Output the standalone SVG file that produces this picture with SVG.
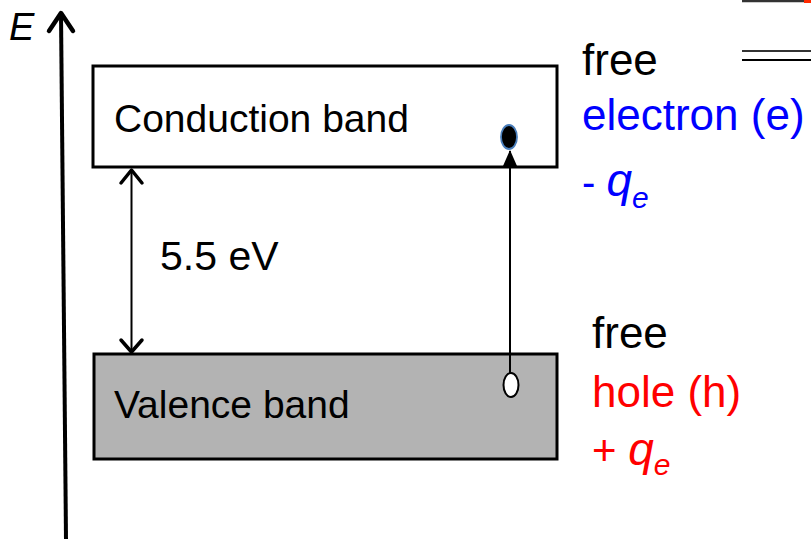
<svg xmlns="http://www.w3.org/2000/svg" width="811" height="539" viewBox="0 0 811 539">
<style>
text{font-family:"Liberation Sans",Arial,sans-serif;}
.band{stroke:#000;stroke-width:3;}
.lbl{font-size:39px;fill:#000;}
.side{font-size:44px;}
.open{fill:none;stroke:#000;stroke-width:3.5;stroke-linecap:round;stroke-linejoin:round;}
.q{font-style:italic;font-size:46px;}
.sub{font-style:italic;font-size:30px;}
</style>
<defs>
<marker id="tri" markerWidth="16" markerHeight="14" refX="15" refY="7" orient="auto" markerUnits="userSpaceOnUse" viewBox="0 0 16 14">
<path d="M0,0 L16,7 L0,14 Z" fill="#000"/>
</marker>
</defs>
<rect width="811" height="539" fill="#fff"/>
<g id="axis">
<line x1="66" y1="539" x2="61" y2="14" stroke="#000" stroke-width="4"/>
<polyline points="49,31 61,13 73,31" fill="none" stroke="#000" stroke-width="4.5" stroke-linecap="round" stroke-linejoin="round"/>
<text x="9" y="40" font-size="38" font-style="italic">E</text>
</g>
<g id="conduction">
<rect class="band" x="93" y="66" width="464" height="101" fill="#fff"/>
<text class="lbl" x="114" y="132">Conduction band</text>
</g>
<g id="valence">
<rect class="band" x="94" y="354" width="463" height="105" fill="#b3b3b3"/>
<text class="lbl" x="114" y="418">Valence band</text>
</g>
<g id="connectors">
<line x1="131.5" y1="172" x2="131.5" y2="350" stroke="#000" stroke-width="2"/>
<polyline class="open" points="121,183 131.5,170 142,183"/>
<polyline class="open" points="121,340 131.5,352 142,340"/>
<line x1="510" y1="373" x2="510" y2="151" stroke="#000" stroke-width="2" marker-end="url(#tri)"/>
</g>
<text x="160" y="270" font-size="41">5.5 eV</text>
<g id="electron">
<ellipse cx="509" cy="137" rx="8" ry="12" fill="#000" stroke="#4a7ebb" stroke-width="1.8"/>
</g>
<g id="hole">
<ellipse cx="511" cy="385" rx="7.5" ry="12" fill="#fff" stroke="#000" stroke-width="2"/>
</g>
<g id="electron-label">
<text class="side" x="582" y="75" fill="#000">free</text>
<text class="side" x="582" y="130" fill="#0000ff">electron (e)</text>
<text x="582" y="196" font-size="40" fill="#0000ff">- <tspan class="q">q</tspan><tspan class="sub" dy="12">e</tspan></text>
</g>
<g id="hole-label">
<text class="side" x="592" y="348" fill="#000">free</text>
<text class="side" x="592" y="407" fill="#ff0000">hole (h)</text>
<text x="592" y="465" font-size="42" fill="#ff0000">+ <tspan class="q">q</tspan><tspan class="sub" dy="10">e</tspan></text>
</g>
<g id="fragment">
<line x1="742" y1="1" x2="811" y2="1" stroke="#333" stroke-width="2.5"/>
<rect x="804" y="0" width="7" height="3" fill="#ff2a00"/>
<line x1="742" y1="51" x2="811" y2="51" stroke="#333" stroke-width="2"/>
<line x1="742" y1="60" x2="811" y2="60" stroke="#000" stroke-width="2"/>
</g>
</svg>
